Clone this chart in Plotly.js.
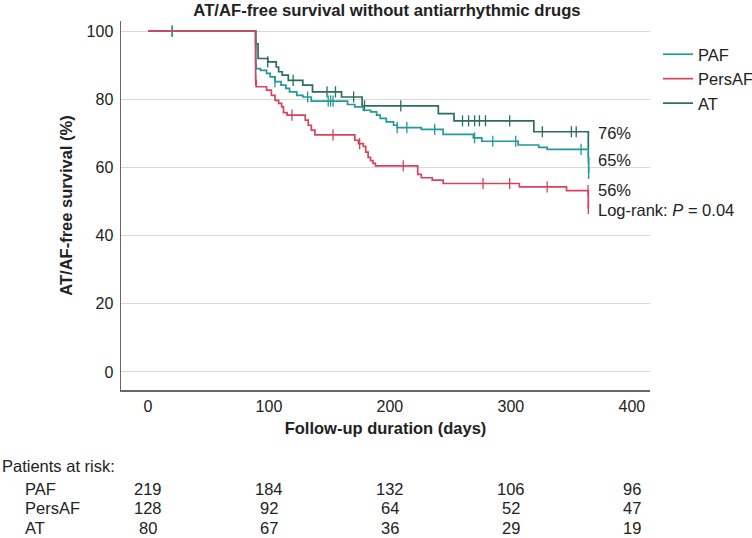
<!DOCTYPE html>
<html>
<head>
<meta charset="utf-8">
<script src="https://cdn.plot.ly/plotly-3.0.1.min.js"></script>
<style>html,body{margin:0;padding:0;background:#fff;}#chart{width:752px;height:538px;}</style>
</head>
<body>
<div id="chart"></div>
<script>
// ---- data ----
const groups = ["PAF", "PersAF", "AT"];
const colors = { PAF: "#22999b", PersAF: "#d5435c", AT: "#2b6e5c" };

const pafDays = [0, 89, 89.5, 93, 98, 101, 105, 110, 114, 117, 123, 128, 135, 165, 171, 178, 184, 189, 192, 197, 203, 206, 226, 244, 269, 276, 306, 323, 330, 364, 364.3];
const pafSurv = [100, 90.3, 89.0, 88.5, 87.6, 86.6, 85.2, 84.2, 83.2, 82.2, 81.2, 80.7, 79.5, 78.5, 77.8, 76.8, 76.3, 75.4, 74.4, 73.4, 72.4, 71.7, 71.2, 69.7, 68.7, 67.7, 66.6, 65.9, 65.3, 62.9, 58.3];
const pafCensor = [20, 89, 105, 132, 149, 151, 153, 206, 214, 237, 270, 285, 304, 358, 364, 364.3];

const persDays = [0, 89, 89.5, 98, 102, 105, 108, 110.5, 112, 115, 130, 132.5, 135, 138, 171, 174, 178, 180, 182, 184, 186, 188, 223, 226, 235, 244, 307, 346, 364];
const persSurv = [100, 85.6, 83.7, 82.7, 81.2, 79.7, 78.8, 77.8, 76.1, 75.4, 73.9, 72.4, 71.0, 69.6, 68.0, 67.0, 66.2, 64.5, 63.0, 62.0, 61.2, 60.5, 58.0, 57.0, 56.3, 55.3, 54.3, 53.2, 48.0];
const persCensor = [89, 119, 153, 175, 211, 277, 299, 330, 363.8, 364];

const atDays = [0, 89, 91, 99, 106, 108, 111, 116, 128, 136, 160, 177, 240, 253, 319, 364];
const atSurv = [100, 96.3, 92.0, 91.0, 89.5, 88.1, 87.1, 85.6, 84.2, 82.2, 80.7, 78.1, 75.8, 73.7, 70.5, 65.3];
const atCensor = [20, 89, 99, 120, 148, 155, 170, 179, 209, 260, 265, 270, 274, 279, 299, 326, 350, 354];

const endLabels = ["76%", "65%", "56%"];
const endLabelY = [70.1, 62.2, 53.4];
const logRankText = "Log-rank: <i>P</i> = 0.04";

const riskTimes = [0, 100, 200, 300, 400];
const riskPAF = [219, 184, 132, 106, 96];
const riskPersAF = [128, 92, 64, 52, 47];
const riskAT = [80, 67, 36, 29, 19];

const xTicks = [0, 100, 200, 300, 400];
const yTicks = [0, 20, 40, 60, 80, 100];

// ---- build ----
function survAt(days, surv, t) {
  let v = surv[0];
  for (let i = 0; i < days.length; i++) if (days[i] <= t) v = surv[i];
  return v;
}
const series = {
  PAF: { d: pafDays, s: pafSurv, c: pafCensor, rank: 1 },
  PersAF: { d: persDays, s: persSurv, c: persCensor, rank: 2 },
  AT: { d: atDays, s: atSurv, c: atCensor, rank: 3 }
};
const drawOrder = ["AT", "PAF", "PersAF"];
const traces = [];
drawOrder.forEach(g => {
  const S = series[g];
  traces.push({
    x: S.d, y: S.s, type: "scatter", mode: "lines", name: g,
    legendrank: S.rank, legendgroup: g,
    line: { shape: "hv", color: colors[g], width: 1.7 },
    hoverinfo: "skip"
  });
  traces.push({
    x: S.c, y: S.c.map(t => survAt(S.d, S.s, t)), type: "scatter", mode: "markers",
    showlegend: false, hoverinfo: "skip", legendgroup: g,
    marker: { symbol: "line-ns", size: 8, color: colors[g], line: { color: colors[g], width: 1.3 } }
  });
});

const font = "Liberation Sans, Arial, Helvetica, sans-serif";
const txt = 16.5;
const annotations = [];
endLabels.forEach((t, i) => annotations.push({
  x: 370, y: endLabelY[i], xref: "x", yref: "y", text: t, showarrow: false,
  xanchor: "left", yanchor: "middle", font: { size: txt, color: "#222" }
}));
annotations.push({ x: 370, y: 47.5, xref: "x", yref: "y", text: logRankText, showarrow: false,
  xanchor: "left", yanchor: "middle", font: { size: txt, color: "#222" } });

annotations.push({ x: -0.229, y: -0.206, xref: "paper", yref: "paper", text: "Patients at risk:",
  showarrow: false, xanchor: "left", yanchor: "middle", font: { size: txt, color: "#222" } });
const riskRows = [["PAF", riskPAF, -0.268], ["PersAF", riskPersAF, -0.321], ["AT", riskAT, -0.375]];
riskRows.forEach(r => {
  annotations.push({ x: -0.185, y: r[2], xref: "paper", yref: "paper", text: r[0], showarrow: false,
    xanchor: "left", yanchor: "middle", font: { size: txt, color: "#222" } });
  riskTimes.forEach((t, i) => annotations.push({
    x: t, y: r[2], xref: "x", yref: "paper", text: String(r[1][i]), showarrow: false,
    xanchor: "center", yanchor: "middle", font: { size: txt, color: "#222" }
  }));
});

const layout = {
  width: 752, height: 538,
  margin: { l: 121, r: 102, t: 21, b: 148 },
  paper_bgcolor: "#fff", plot_bgcolor: "#fff",
  font: { family: font, size: 16, color: "#222" },
  title: { text: "<b>AT/AF-free survival without antiarrhythmic drugs</b>", x: 387 / 752, xref: "container",
    xanchor: "center", y: 1 - 10 / 538, yref: "container", yanchor: "middle", font: { size: 16.7, color: "#222" } },
  xaxis: {
    range: [-22.3, 415], tickvals: xTicks, showgrid: false, zeroline: false,
    showline: true, linecolor: "#666", linewidth: 1.5, ticks: "", ticklabelstandoff: 1,
    tickfont: { size: 16 },
    title: { text: "<b>Follow-up duration (days)</b>", standoff: 8, font: { size: 16.5 } }
  },
  yaxis: {
    range: [-5.3, 103], tickvals: yTicks, showgrid: true, gridcolor: "#d9d9d9", gridwidth: 1,
    zeroline: false, showline: true, linecolor: "#666", linewidth: 1.5, ticks: "", ticklabelstandoff: 3,
    tickfont: { size: 16 },
    title: { text: "<b>AT/AF-free survival (%)</b>", standoff: 10, font: { size: 16.5 } }
  },
  legend: { x: 658 / 752, y: 1 - 37 / 538, xref: "container", yref: "container", xanchor: "left", yanchor: "top",
    bgcolor: "rgba(0,0,0,0)", font: { size: 16.5 }, itemwidth: 30, traceorder: "grouped", tracegroupgap: 0 },
  annotations: annotations,
  showlegend: true
};

Plotly.newPlot("chart", traces, layout, { displayModeBar: false, staticPlot: true });
</script>
</body>
</html>
